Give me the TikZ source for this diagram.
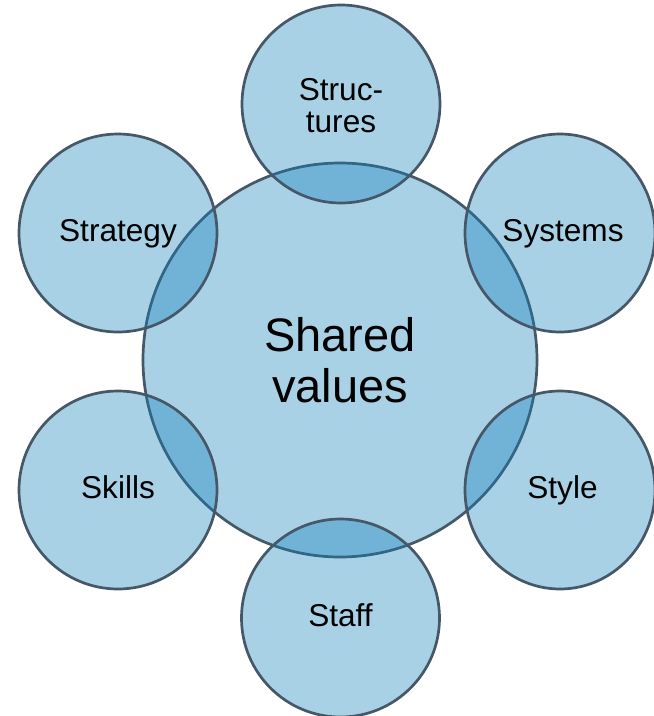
\documentclass[tikz,border=0pt]{standalone}
\usepackage{fontspec}
\setmainfont{Liberation Sans}
\usetikzlibrary{shapes.geometric}
\definecolor{cfill}{RGB}{16,127,186}
\definecolor{cline}{RGB}{70,88,104}
\begin{document}
\begin{tikzpicture}[x=1pt,y=-1pt,
  blob/.style={circle,inner sep=0pt,fill=cfill,fill opacity=0.36,text opacity=1,draw=cline,draw opacity=1,line width=2.7pt,text=black,align=center},
  small/.style={blob,minimum size=198pt,font=\fontsize{31.6}{32}\selectfont,text height=22pt,text depth=6pt},
  smallr/.style={small,ellipse,minimum width=190pt,minimum height=198pt},
  big/.style={blob,minimum size=394pt,font=\fontsize{47}{51}\selectfont}]
\useasboundingbox (0,0) rectangle (654,716);
\node[big] (shared) at (340,360) {Shared\\values};
\node[small,text height=,text depth=] (structures) at (341,104) {\rule{0pt}{25pt}Struc-\\tures};
\node[small] (strategy) at (118,233) {Strategy};
\node[smallr] (systems) at (560,233) {\hspace*{6pt}Systems};
\node[small] (skills) at (118,490) {Skills};
\node[smallr] (style) at (560,490) {\hspace*{5pt}Style};
\node[small] (staff) at (340.5,618) {Staff};
\end{tikzpicture}
\end{document}
